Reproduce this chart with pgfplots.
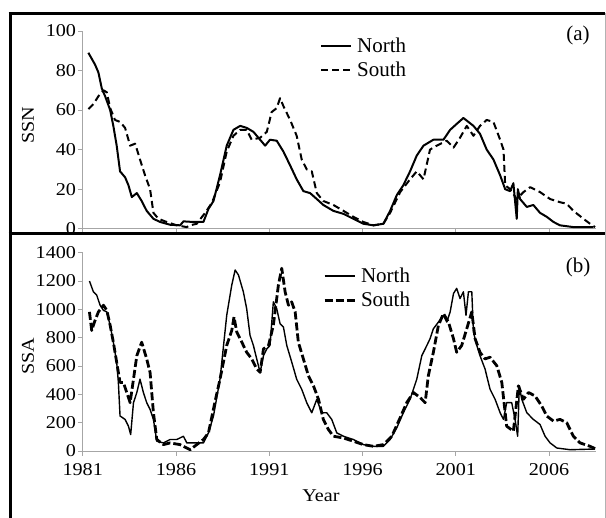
\documentclass[border=0pt]{standalone}
\usepackage{fontspec}
\setmainfont{Liberation Serif}
\newfontfamily\widefont{Liberation Serif}[FakeStretch=1.12]
\usepackage{pgfplots}
\pgfplotsset{compat=1.18}

\pgfplotsset{
  panel/.style={
    scale only axis, width=513.25pt,
    xmin=1981, xmax=2008.52,
    clip mode=individual,
    axis lines=left,
    axis line style={-, gray!70, line width=0.8pt},
    tick style={gray!70, line width=0.8pt},
    tick align=outside, major tick length=5pt,
    xtick={1981,1986,...,2006},
    /pgf/number format/assume math mode=true,
    /pgf/number format/1000 sep={},
    ticklabel style={font=\widefont\fontsize{18}{20}\selectfont},
    yticklabel style={inner sep=1.5pt},
    xticklabel style={inner sep=7pt},
    label style={font=\widefont\fontsize{18}{20}\selectfont},
    legend style={draw=none, fill=none, inner sep=0pt,
      font=\fontsize{21}{24}\selectfont,
      nodes={inner sep=0pt}, column sep=5pt, row sep=8pt,
      anchor=north west},
    legend cell align=left,
    legend image code/.code={\draw[##1] (0pt,0pt) -- (30pt,0pt);},
  },
  north/.style={black, line width=2pt, line join=round},
  south/.style={black, line width=2pt, dash pattern=on 7pt off 4pt, line join=round},
}

\pgfplotstableread{
year ssn
1981.30 89
1981.48 86
1981.66 83
1981.84 79
1982.02 71
1982.20 67
1982.47 60
1982.64 52
1982.82 42
1983.00 29
1983.27 26
1983.45 22
1983.63 16
1983.90 18
1984.16 14
1984.43 9
1984.79 5
1985.15 3.4
1985.68 2
1986.22 1.7
1986.40 3.7
1986.93 3.4
1987.47 3.4
1987.74 10
1988.01 14
1988.36 27
1988.72 42
1989.08 50
1989.44 52
1989.79 51
1990.15 49
1990.51 45
1990.78 42
1991.04 45
1991.40 44.5
1991.76 39
1992.12 32
1992.47 25
1992.83 19
1993.19 18
1993.55 15
1993.90 12
1994.44 9
1994.98 7.5
1995.51 5
1996.05 2.5
1996.59 1.7
1997.12 2.5
1997.48 9
1997.84 17
1998.19 22
1998.55 29
1998.91 37
1999.27 42
1999.80 45
2000.34 45
2000.70 50
2001.05 53
2001.41 56
2001.68 54
2001.95 52
2002.30 48
2002.66 40
2003.02 35
2003.38 27
2003.65 20
2003.91 19
2004.09 23
2004.20 12
2004.27 5
2004.33 20
2004.45 15
2004.81 11
2005.16 12
2005.52 8
2005.88 6
2006.24 3.4
2006.59 1.7
2007.31 0.8
2008.38 0.8
}\ssnnorth

\pgfplotstableread{
year ssn
1981.30 60.5
1981.57 63
1981.84 67
1982.11 70
1982.29 69
1982.47 61
1982.73 55
1983.00 54
1983.27 51
1983.54 42
1983.81 43
1984.07 35
1984.34 27
1984.61 20
1984.79 8
1985.06 5
1985.50 3.4
1986.04 1.7
1986.58 0.8
1986.76 1.7
1987.11 2.5
1987.56 8
1987.92 13
1988.36 23.5
1988.72 39
1989.08 47
1989.44 50
1989.79 50
1990.06 45
1990.51 46
1990.87 49
1991.13 59
1991.40 61
1991.58 66
1991.76 62
1992.12 55
1992.47 47
1992.74 35
1993.01 30
1993.28 29
1993.55 18
1993.90 14
1994.44 12
1994.98 9
1995.51 6
1996.05 3.4
1996.59 1.7
1997.12 2.5
1997.48 8
1998.02 18.5
1998.55 25
1998.91 29
1999.27 25
1999.62 40
1999.98 42
2000.52 44.5
2000.88 41
2001.23 46
2001.59 52
2001.95 47
2002.30 52
2002.66 55
2003.02 54
2003.38 45
2003.56 40
2003.65 22
2003.91 20
2004.27 15
2004.63 18.5
2004.99 21
2005.52 18.5
2006.06 15
2006.59 13.4
2006.95 12.6
2007.31 9
2007.85 5
2008.20 2.5
2008.47 0.8
}\ssnsouth

\pgfplotstableread{
year ssa
1981.36 1200
1981.57 1124
1981.75 1100
1981.93 1029
1982.11 993
1982.29 982
1982.47 887
1982.64 768
1982.82 626
1982.91 484
1983.00 247
1983.27 223
1983.45 175
1983.57 116
1983.72 341
1983.90 413
1984.07 507
1984.25 413
1984.43 341
1984.61 294
1984.79 223
1984.97 69
1985.33 57
1985.68 81
1986.04 81
1986.40 104
1986.58 57
1986.93 57
1987.47 57
1987.74 128
1988.01 247
1988.36 507
1988.72 958
1988.99 1171
1989.17 1278
1989.35 1242
1989.61 1124
1989.79 1005
1989.97 816
1990.15 745
1990.33 650
1990.51 555
1990.69 673
1990.87 721
1991.04 745
1991.22 1053
1991.40 1005
1991.58 899
1991.76 875
1991.94 745
1992.21 626
1992.47 507
1992.74 436
1993.01 341
1993.28 270
1993.55 365
1993.81 270
1994.08 270
1994.35 223
1994.62 128
1994.98 104
1995.51 81
1996.05 45
1996.59 33
1997.12 33
1997.48 81
1997.84 164
1998.19 270
1998.55 365
1998.91 507
1999.18 673
1999.45 745
1999.62 792
1999.80 863
2000.07 910
2000.34 958
2000.52 910
2000.70 982
2000.88 1112
2001.05 1148
2001.23 1076
2001.41 1124
2001.55 958
2001.68 1124
2001.86 1124
2001.95 839
2002.13 745
2002.30 673
2002.57 579
2002.84 436
2003.11 365
2003.38 270
2003.56 223
2003.73 341
2004.00 341
2004.18 223
2004.32 104
2004.41 460
2004.54 365
2004.81 270
2005.16 223
2005.52 187
2005.79 104
2006.06 57
2006.42 21
2007.13 9
2008.47 14
}\ssanorth

\pgfplotstableread{
year ssa
1981.36 982
1981.48 851
1981.66 922
1981.84 982
1982.11 1029
1982.29 993
1982.47 887
1982.64 768
1982.82 626
1983.00 484
1983.18 484
1983.36 413
1983.54 341
1983.72 507
1983.90 673
1984.16 768
1984.43 650
1984.61 555
1984.79 270
1984.97 81
1985.33 45
1985.68 57
1986.22 45
1986.76 9
1987.11 45
1987.47 81
1987.74 128
1988.10 353
1988.36 507
1988.72 745
1988.99 851
1989.11 946
1989.26 839
1989.53 768
1989.79 697
1990.06 650
1990.33 579
1990.51 555
1990.69 721
1990.96 745
1991.22 887
1991.49 1171
1991.67 1290
1991.85 1124
1992.03 1029
1992.20 1053
1992.39 982
1992.56 768
1992.83 650
1993.10 531
1993.37 460
1993.64 365
1993.90 223
1994.17 152
1994.44 104
1994.98 92
1995.51 69
1996.05 45
1996.59 33
1997.12 45
1997.57 104
1998.02 235
1998.37 341
1998.73 413
1999.09 377
1999.36 341
1999.53 531
1999.80 697
2000.07 887
2000.34 970
2000.61 910
2000.88 792
2001.05 697
2001.32 745
2001.59 863
2001.86 982
2002.04 792
2002.30 697
2002.57 650
2002.84 662
2003.20 602
2003.47 484
2003.73 175
2004.09 140
2004.36 460
2004.63 365
2004.90 413
2005.25 389
2005.61 318
2005.88 247
2006.24 211
2006.59 223
2006.95 199
2007.31 104
2007.67 57
2008.20 33
2008.47 17
}\ssasouth

\begin{document}
\begin{tikzpicture}
\useasboundingbox (0pt,0pt) rectangle (606pt,518pt);

% (a) sunspot numbers
\begin{axis}[panel,
  at={(82.75pt,289.3pt)}, anchor=south west,
  height=197.7pt,
  ymin=0, ymax=100, ytick={0,20,...,100},
  xticklabels={},
  ylabel={SSN},
  ylabel style={at={(axis description cs:-0.1067,0.5245)}, anchor=center},
  legend style={at={(axis description cs:0.4623,0.9646)}},
]
\addplot[north] table[x=year, y=ssn] {\ssnnorth};
\addplot[south] table[x=year, y=ssn] {\ssnsouth};
\legend{North, South}
\node[font=\fontsize{21}{24}\selectfont] at (axis description cs:0.965,0.979) {(a)};
\end{axis}

% (b) sunspot areas
\begin{axis}[panel,
  at={(82.75pt,67pt)}, anchor=south west,
  height=198.3pt,
  ymin=0, ymax=1400, ytick={0,200,...,1400},
  ylabel={SSA}, xlabel={Year},
  ylabel style={at={(axis description cs:-0.1067,0.479)}, anchor=center},
  xlabel style={at={(axis description cs:0.464,-0.227)}, anchor=center},
  legend style={at={(axis description cs:0.4682,0.923)}},
]
\addplot[black, line width=1.4pt, line join=round] table[x=year, y=ssa] {\ssanorth};
\addplot[black, line width=2.8pt, dash pattern=on 8pt off 3pt, line join=round] table[x=year, y=ssa] {\ssasouth};
\legend{North, South}
\node[font=\fontsize{21}{24}\selectfont] at (axis description cs:0.965,0.928) {(b)};
\end{axis}

% frame of the two panels
\draw[line width=3pt] (10pt,0pt) -- (10pt,504.7pt);
\draw[line width=3pt] (8.5pt,504.7pt) -- (605pt,504.7pt);
\draw[line width=3pt] (8.5pt,284.5pt) -- (605pt,284.5pt);
\draw[gray!60, line width=0.8pt] (605pt,504.7pt) -- (605pt,0pt);
\end{tikzpicture}
\end{document}
